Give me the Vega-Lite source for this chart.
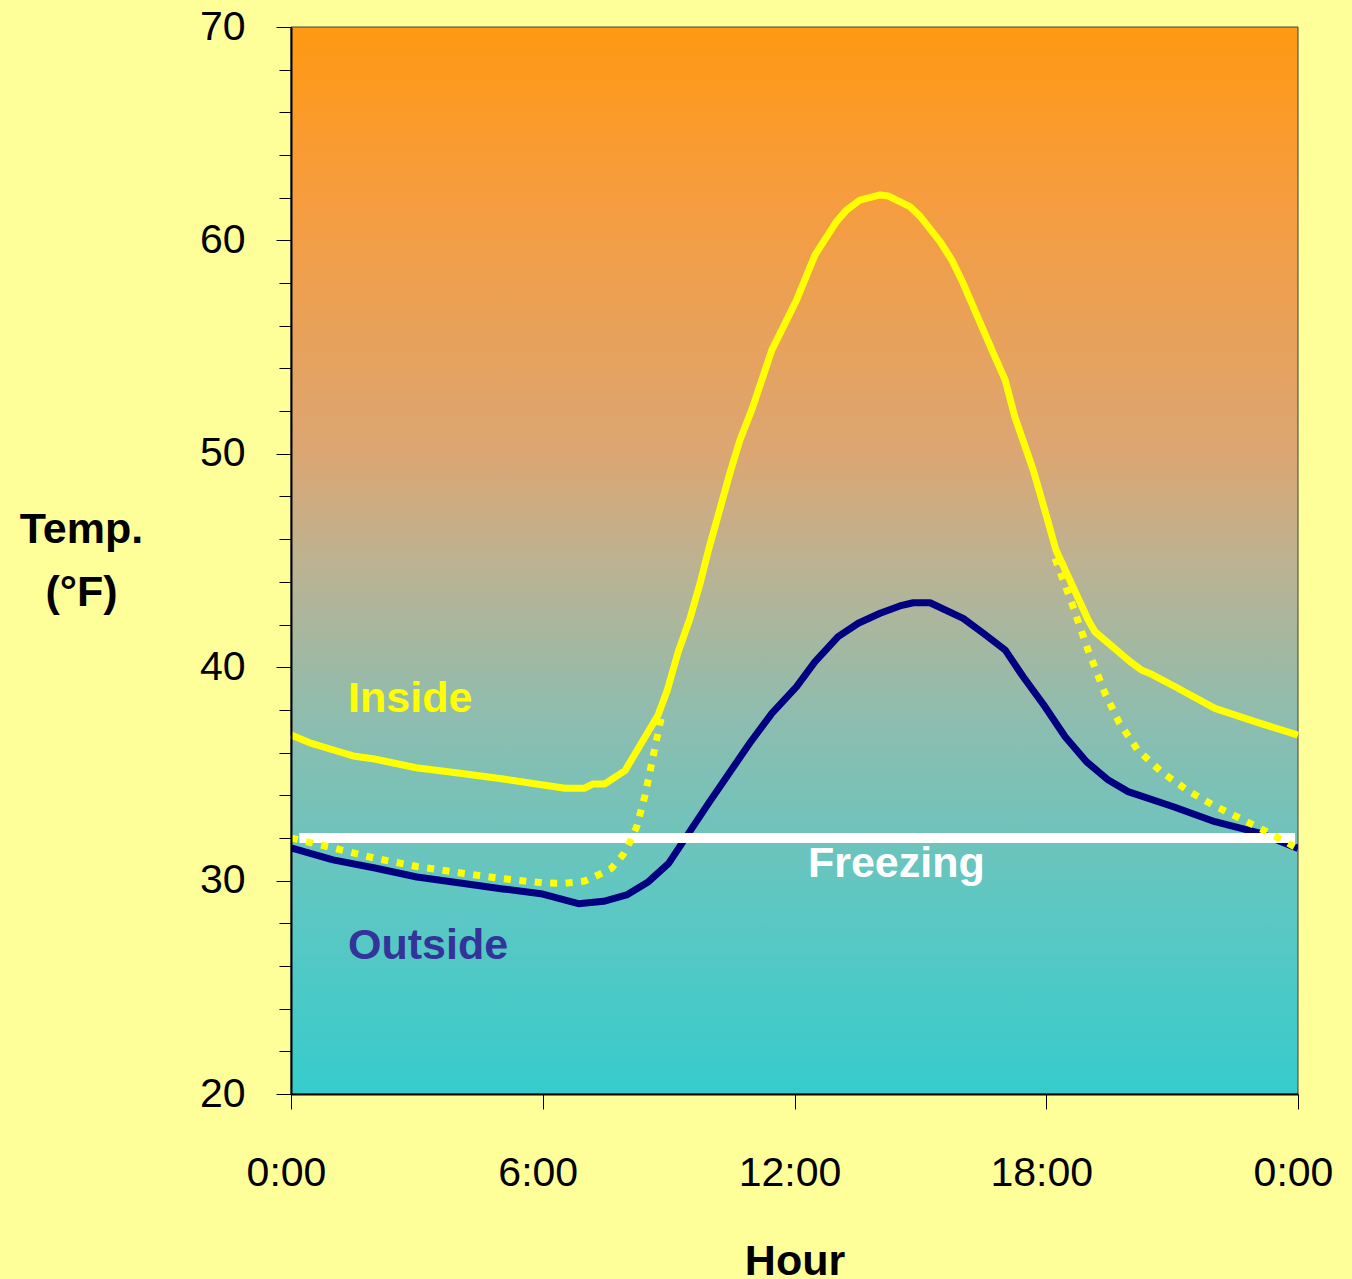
{
  "$schema": "https://vega.github.io/schema/vega-lite/v6.json",
  "width": 1007,
  "height": 1067,
  "autosize": {"type": "none"},
  "padding": {"left": 291, "top": 27, "right": 54, "bottom": 185},
  "background": "#FFFF99",
  "config": {
    "font": "Liberation Sans",
    "view": {"stroke": null},
    "axis": {"labelFont": "Liberation Sans", "labelColor": "#000000", "tickColor": "#000000", "domainColor": "#000000", "titleColor": "#000000", "titleFont": "Liberation Sans"}
  },
  "datasets": {
    "outside": [
      {"hour": 0, "temp": 31.53}, {"hour": 1.0, "temp": 30.97}, {"hour": 2.0, "temp": 30.59}, {"hour": 3.0, "temp": 30.17},
      {"hour": 4.03, "temp": 29.89}, {"hour": 5.05, "temp": 29.61}, {"hour": 6.0, "temp": 29.37}, {"hour": 6.85, "temp": 28.92},
      {"hour": 7.45, "temp": 29.03}, {"hour": 8.0, "temp": 29.33}, {"hour": 8.52, "temp": 29.95}, {"hour": 9.0, "temp": 30.81},
      {"hour": 9.95, "temp": 33.62}, {"hour": 10.94, "temp": 36.46}, {"hour": 11.46, "temp": 37.84}, {"hour": 12.05, "temp": 39.09},
      {"hour": 12.49, "temp": 40.26}, {"hour": 13.04, "temp": 41.43}, {"hour": 13.52, "temp": 42.06}, {"hour": 14.04, "temp": 42.53},
      {"hour": 14.51, "temp": 42.87}, {"hour": 14.83, "temp": 43.02}, {"hour": 15.23, "temp": 43.02}, {"hour": 16.02, "temp": 42.29},
      {"hour": 16.5, "temp": 41.59}, {"hour": 17.02, "temp": 40.81}, {"hour": 17.45, "temp": 39.55}, {"hour": 17.97, "temp": 38.15},
      {"hour": 18.45, "temp": 36.74}, {"hour": 18.96, "temp": 35.57}, {"hour": 19.48, "temp": 34.71}, {"hour": 19.95, "temp": 34.17},
      {"hour": 21.03, "temp": 33.46}, {"hour": 22.02, "temp": 32.76}, {"hour": 23.09, "temp": 32.22}, {"hour": 24, "temp": 31.51}
    ],
    "inside": [
      {"hour": 0, "temp": 36.82}, {"hour": 0.49, "temp": 36.43}, {"hour": 1.01, "temp": 36.12}, {"hour": 1.48, "temp": 35.84},
      {"hour": 1.99, "temp": 35.7}, {"hour": 2.98, "temp": 35.29}, {"hour": 4.03, "temp": 35.03}, {"hour": 5.06, "temp": 34.76},
      {"hour": 6.01, "temp": 34.48}, {"hour": 6.53, "temp": 34.33}, {"hour": 7.0, "temp": 34.33}, {"hour": 7.2, "temp": 34.53},
      {"hour": 7.48, "temp": 34.53}, {"hour": 7.96, "temp": 35.15}, {"hour": 8.75, "temp": 37.76}, {"hour": 8.97, "temp": 38.93},
      {"hour": 9.23, "temp": 40.73}, {"hour": 9.51, "temp": 42.29}, {"hour": 9.75, "temp": 43.93}, {"hour": 9.95, "temp": 45.49},
      {"hour": 10.46, "temp": 49.09}, {"hour": 10.7, "temp": 50.65}, {"hour": 10.98, "temp": 52.05}, {"hour": 11.46, "temp": 54.86},
      {"hour": 12.05, "temp": 57.21}, {"hour": 12.49, "temp": 59.32}, {"hour": 13.0, "temp": 60.88}, {"hour": 13.24, "temp": 61.42},
      {"hour": 13.56, "temp": 61.89}, {"hour": 14.04, "temp": 62.13}, {"hour": 14.24, "temp": 62.08}, {"hour": 14.75, "temp": 61.58},
      {"hour": 14.99, "temp": 61.14}, {"hour": 15.47, "temp": 59.94}, {"hour": 15.75, "temp": 59.08}, {"hour": 16.02, "temp": 57.99},
      {"hour": 16.74, "temp": 54.71}, {"hour": 17.02, "temp": 53.46}, {"hour": 17.25, "temp": 51.74}, {"hour": 17.69, "temp": 49.24},
      {"hour": 18.01, "temp": 47.05}, {"hour": 18.23, "temp": 45.5}, {"hour": 19.0, "temp": 42.21}, {"hour": 19.16, "temp": 41.66},
      {"hour": 20.0, "temp": 40.26}, {"hour": 20.27, "temp": 39.87}, {"hour": 20.47, "temp": 39.71}, {"hour": 21.03, "temp": 39.13},
      {"hour": 22.02, "temp": 38.07}, {"hour": 23.05, "temp": 37.4}, {"hour": 24, "temp": 36.82}
    ],
    "dotted": [
      {"seg": "am", "hour": 0, "temp": 32.0}, {"seg": "am", "hour": 1.0, "temp": 31.53}, {"seg": "am", "hour": 2.0, "temp": 31.05},
      {"seg": "am", "hour": 3.0, "temp": 30.66}, {"seg": "am", "hour": 4.0, "temp": 30.37}, {"seg": "am", "hour": 5.0, "temp": 30.1},
      {"seg": "am", "hour": 6.0, "temp": 29.89}, {"seg": "am", "hour": 6.5, "temp": 29.87}, {"seg": "am", "hour": 7.0, "temp": 29.98},
      {"seg": "am", "hour": 7.32, "temp": 30.26}, {"seg": "am", "hour": 7.64, "temp": 30.58}, {"seg": "am", "hour": 7.91, "temp": 31.2},
      {"seg": "am", "hour": 8.08, "temp": 31.82}, {"seg": "am", "hour": 8.24, "temp": 32.53}, {"seg": "am", "hour": 8.44, "temp": 34.01},
      {"seg": "am", "hour": 8.67, "temp": 36.2}, {"seg": "am", "hour": 8.83, "temp": 37.68},
      {"seg": "pm", "hour": 18.21, "temp": 45.1}, {"seg": "pm", "hour": 18.61, "temp": 43.0}, {"seg": "pm", "hour": 18.98, "temp": 40.89},
      {"seg": "pm", "hour": 19.4, "temp": 38.78}, {"seg": "pm", "hour": 19.74, "temp": 37.4}, {"seg": "pm", "hour": 20.17, "temp": 36.15},
      {"seg": "pm", "hour": 20.74, "temp": 35.1}, {"seg": "pm", "hour": 21.35, "temp": 34.25}, {"seg": "pm", "hour": 22.0, "temp": 33.51},
      {"seg": "pm", "hour": 22.7, "temp": 32.84}, {"seg": "pm", "hour": 23.37, "temp": 32.17}, {"seg": "pm", "hour": 24, "temp": 31.5}
    ],
    "freezing": [{"start": 0.2, "end": 23.93, "temp": 32}],
    "labels": [
      {"label": "Inside", "hour": 1.36, "temp": 37.9},
      {"label": "Outside", "hour": 1.36, "temp": 26.33},
      {"label": "Freezing", "hour": 12.32, "temp": 30.17}
    ],
    "plotarea": [{"x0": 0, "x1": 24, "y0": 20, "y1": 70}]
  },
  "layer": [
    {
      "data": {"name": "plotarea"},
      "mark": {
        "type": "rect",
        "stroke": "#404040",
        "strokeWidth": 1,
        "color": {
          "gradient": "linear", "x1": 0, "y1": 0, "x2": 0, "y2": 1,
          "stops": [
            {"offset": 0, "color": "#FF9912"},
            {"offset": 0.15, "color": "#F79C3C"},
            {"offset": 0.4, "color": "#DCA673"},
            {"offset": 0.5, "color": "#BDB291"},
            {"offset": 0.65, "color": "#8DBDAF"},
            {"offset": 0.82, "color": "#5EC7C2"},
            {"offset": 1, "color": "#36CCCC"}
          ]
        }
      },
      "encoding": {
        "x": {
          "field": "x0", "type": "quantitative",
          "scale": {"domain": [0, 24], "nice": false, "zero": false},
          "axis": {
            "values": [0, 6, 12, 18, 24],
            "labelExpr": "(datum.value % 24) + ':00'",
            "grid": false,
            "tickSize": 15,
            "tickWidth": 1,
            "domainWidth": 2,
            "labelFontSize": 41,
            "labelPadding": 44,
            "labelOffset": -5,
            "labelFlush": false,
            "labelOverlap": false,
            "labelBound": false,
            "title": "Hour",
            "titleFontSize": 43,
            "titleFontWeight": "bold",
            "titleX": 503.5,
            "titleY": 180,
            "titleAlign": "center",
            "titleBaseline": "alphabetic",
            "zindex": 1
          }
        },
        "x2": {"field": "x1"},
        "y": {
          "field": "y0", "type": "quantitative",
          "scale": {"domain": [20, 70], "nice": false, "zero": false},
          "axis": {
            "values": [20, 22, 24, 26, 28, 30, 32, 34, 36, 38, 40, 42, 44, 46, 48, 50, 52, 54, 56, 58, 60, 62, 64, 66, 68, 70],
            "labelExpr": "datum.value % 10 === 0 ? datum.label : ''",
            "grid": false,
            "tickSize": {"condition": {"test": "datum.value % 10 === 0", "value": 15}, "value": 12},
            "tickWidth": 1,
            "domainWidth": 2,
            "labelFontSize": 41,
            "labelPadding": 31,
            "labelFlush": false,
            "labelOverlap": false,
            "labelBound": false,
            "title": ["Temp.", "(°F)"],
            "titleAngle": 0,
            "titleFontSize": 43,
            "titleFontWeight": "bold",
            "titleX": -210,
            "titleY": 502,
            "titleAlign": "center",
            "titleBaseline": "middle",
            "titleLineHeight": 63,
            "zindex": 1
          }
        },
        "y2": {"field": "y1"}
      }
    },
    {
      "data": {"name": "outside"},
      "mark": {"type": "line", "color": "#000080", "strokeWidth": 7, "strokeJoin": "round", "strokeCap": "butt", "clip": true},
      "encoding": {
        "x": {"field": "hour", "type": "quantitative"},
        "y": {"field": "temp", "type": "quantitative"}
      }
    },
    {
      "data": {"name": "freezing"},
      "mark": {"type": "rule", "color": "#FFFFFF", "strokeWidth": 10, "strokeCap": "butt"},
      "encoding": {
        "x": {"field": "start", "type": "quantitative"},
        "x2": {"field": "end"},
        "y": {"field": "temp", "type": "quantitative"}
      }
    },
    {
      "data": {"name": "inside"},
      "mark": {"type": "line", "color": "#FFFF00", "strokeWidth": 7, "strokeJoin": "round", "strokeCap": "butt"},
      "encoding": {
        "x": {"field": "hour", "type": "quantitative"},
        "y": {"field": "temp", "type": "quantitative"}
      }
    },
    {
      "data": {"name": "dotted"},
      "mark": {"type": "line", "color": "#FFFF00", "strokeWidth": 7, "strokeDash": [7, 8.5], "strokeCap": "butt"},
      "encoding": {
        "x": {"field": "hour", "type": "quantitative"},
        "y": {"field": "temp", "type": "quantitative"},
        "detail": {"field": "seg", "type": "nominal"}
      }
    },
    {
      "data": {"name": "labels"},
      "mark": {"type": "text", "align": "left", "baseline": "alphabetic", "fontSize": 43, "fontWeight": "bold", "font": "Liberation Sans"},
      "encoding": {
        "x": {"field": "hour", "type": "quantitative"},
        "y": {"field": "temp", "type": "quantitative"},
        "text": {"field": "label", "type": "nominal"},
        "color": {
          "field": "label", "type": "nominal",
          "scale": {"domain": ["Inside", "Outside", "Freezing"], "range": ["#FFFF00", "#333399", "#FFFFFF"]},
          "legend": null
        }
      }
    }
  ]
}
